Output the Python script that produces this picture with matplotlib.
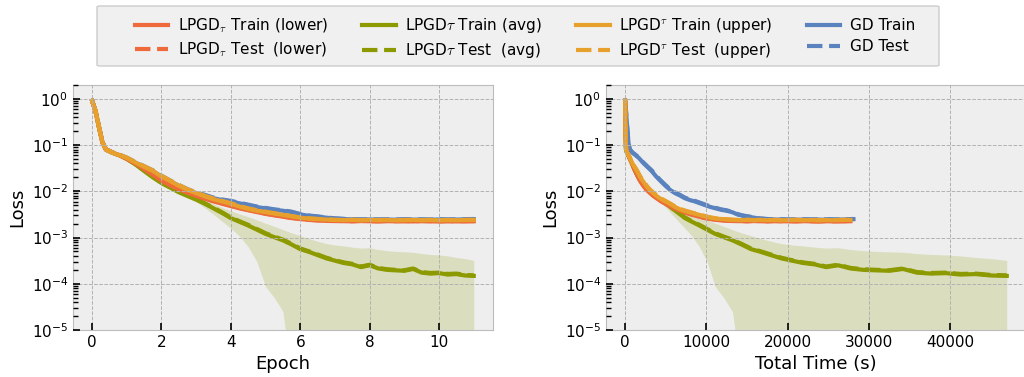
############# Librerias ################
import numpy as np
import matplotlib
matplotlib.use("Agg")
import matplotlib.pyplot as plt
from matplotlib.patches import FancyBboxPatch

plt.style.use('bmh')

############# Datos ################
# Epoch grid shared by all runs
EPOCH = [0, 0.1, 0.2, 0.3, 0.4, 0.6, 0.8, 1.0,
         1.25, 1.5, 1.75, 2.0, 2.25, 2.5, 2.75, 3.0,
         3.25, 3.5, 3.75, 4.0, 4.25, 4.5, 4.75, 5.0,
         5.25, 5.5, 5.75, 6.0, 6.25, 6.5, 6.75, 7.0,
         7.25, 7.5, 7.75, 8.0, 8.25, 8.5, 8.75, 9.0,
         9.25, 9.5, 9.75, 10.0, 10.25, 10.5, 10.75, 11.0]

# Wall-clock time (s) reached at each epoch of the grid
TIME_BOUNDS = [0, 15, 46, 88, 138, 264, 419, 598,
               855, 1146, 1465, 1815, 2191, 2593, 3018, 3471,
               3945, 4442, 4961, 5500, 6060, 6640, 7240, 7860,
               8500, 9153, 9833, 10523, 11233, 11960, 12705, 13465,
               14243, 15037, 15849, 16672, 17510, 18370, 19245, 20130,
               21030, 21950, 22880, 23830, 24790, 25760, 26750, 27750]
TIME_AVG = [0, 9, 31, 65, 109, 229, 388, 584,
            878, 1226, 1626, 2076, 2574, 3120, 3717, 4358,
            5048, 5784, 6562, 7382, 8244, 9155, 10105, 11100,
            12140, 13220, 14340, 15500, 16700, 17950, 19230, 20550,
            21910, 23320, 24760, 26240, 27760, 29320, 30920, 32550,
            34230, 35940, 37690, 39480, 41300, 43160, 45060, 47000]
TIME_GD = [0, 115, 259, 415, 582, 935, 1309, 1700,
           2207, 2732, 3272, 3825, 4390, 4966, 5552, 6148,
           6751, 7362, 7982, 8607, 9240, 9879, 10525, 11175,
           11830, 12493, 13161, 13833, 14510, 15190, 15875, 16566,
           17262, 17960, 18663, 19368, 20077, 20791, 21508, 22230,
           22954, 23679, 24410, 25143, 25880, 26620, 27370, 28120]

# LPGD lower
LOWER_TRAIN = [0.912, 0.537, 0.240, 0.112, 0.0794, 0.0676, 0.0595, 0.0501,
               0.0398, 0.0302, 0.0229, 0.0170, 0.0135, 0.0110, 0.00933, 0.00794,
               0.00692, 0.00603, 0.00537, 0.00479, 0.00427, 0.00389, 0.00355, 0.00324,
               0.00302, 0.00282, 0.00263, 0.00251, 0.00240, 0.00234, 0.00229, 0.00227,
               0.00226, 0.00224, 0.00227, 0.00225, 0.00223, 0.00226, 0.00224, 0.00225,
               0.00223, 0.00226, 0.00224, 0.00222, 0.00225, 0.00223, 0.00224, 0.00225]
LOWER_TEST = [0.912, 0.540, 0.244, 0.114, 0.0808, 0.0685, 0.0604, 0.0510,
              0.0406, 0.0309, 0.0235, 0.0175, 0.0139, 0.0113, 0.00958, 0.00815,
              0.00710, 0.00618, 0.00549, 0.00490, 0.00436, 0.00396, 0.00361, 0.00330,
              0.00307, 0.00286, 0.00267, 0.00254, 0.00243, 0.00236, 0.00231, 0.00229,
              0.00228, 0.00226, 0.00229, 0.00227, 0.00225, 0.00228, 0.00226, 0.00227,
              0.00225, 0.00228, 0.00226, 0.00224, 0.00227, 0.00225, 0.00226, 0.00227]

# LPGD avg
AVG_TRAIN = [0.912, 0.537, 0.240, 0.112, 0.0794, 0.0676, 0.0595, 0.0501,
             0.0380, 0.0275, 0.0200, 0.0151, 0.0120, 0.00955, 0.00794, 0.00661,
             0.00537, 0.00427, 0.00339, 0.00263, 0.00219, 0.00182, 0.00148, 0.00120,
             0.00102, 0.00087, 0.000708, 0.000562, 0.000490, 0.000417, 0.000355, 0.000316,
             0.000282, 0.000263, 0.000229, 0.000251, 0.000214, 0.000200, 0.000195, 0.000191,
             0.000209, 0.000174, 0.000166, 0.000170, 0.000158, 0.000162, 0.000151, 0.000148]
AVG_TEST = [0.912, 0.540, 0.244, 0.114, 0.0806, 0.0686, 0.0604, 0.0510,
            0.0388, 0.0281, 0.0205, 0.0155, 0.0123, 0.00980, 0.00815, 0.00680,
            0.00552, 0.00440, 0.00350, 0.00271, 0.00225, 0.00188, 0.00153, 0.00124,
            0.00105, 0.00090, 0.000730, 0.000580, 0.000503, 0.000430, 0.000366, 0.000324,
            0.000290, 0.000270, 0.000236, 0.000258, 0.000220, 0.000206, 0.000200, 0.000196,
            0.000214, 0.000179, 0.000171, 0.000174, 0.000163, 0.000166, 0.000155, 0.000152]
# spread of the avg run (shaded)
AVG_HIGH = [0.95, 0.58, 0.26, 0.122, 0.087, 0.074, 0.065, 0.055,
            0.042, 0.0302, 0.022, 0.0167, 0.0133, 0.0106, 0.0088, 0.0074,
            0.0063, 0.00537, 0.00447, 0.0038, 0.00324, 0.00282, 0.0024, 0.00204,
            0.00174, 0.00148, 0.00126, 0.0011, 0.00095, 0.00083, 0.00074, 0.00069,
            0.00066, 0.00062, 0.00059, 0.0006, 0.00055, 0.00052, 0.0005, 0.00049,
            0.00048, 0.00045, 0.00043, 0.00042, 0.0004, 0.00037, 0.00035, 0.00032]
AVG_LOW = [0.87, 0.5, 0.22, 0.103, 0.073, 0.062, 0.054, 0.046,
           0.0345, 0.025, 0.018, 0.0136, 0.0108, 0.0086, 0.0071, 0.0059,
           0.00437, 0.00316, 0.00224, 0.00158, 0.00107, 0.00063, 0.0003, 8.7e-5,
           5e-5, 2.5e-5, 1e-6, 1e-7, 1e-7, 1e-7, 1e-7, 1e-7,
           1e-7, 1e-7, 1e-7, 1e-7, 1e-7, 1e-7, 1e-7, 1e-7,
           1e-7, 1e-7, 1e-7, 1e-7, 1e-7, 1e-7, 1e-7, 1e-7]

# LPGD upper
UPPER_TRAIN = [0.912, 0.537, 0.240, 0.112, 0.0794, 0.0676, 0.0603, 0.0525,
               0.0417, 0.0339, 0.0275, 0.0209, 0.0166, 0.0132, 0.0107, 0.00912,
               0.00776, 0.00676, 0.00603, 0.00537, 0.00468, 0.00417, 0.00380, 0.00355,
               0.00331, 0.00309, 0.00288, 0.00269, 0.00257, 0.00251, 0.00245, 0.00240,
               0.00238, 0.00241, 0.00236, 0.00240, 0.00237, 0.00239, 0.00236, 0.00238,
               0.00240, 0.00237, 0.00239, 0.00236, 0.00238, 0.00237, 0.00239, 0.00240]
UPPER_TEST = [0.912, 0.540, 0.245, 0.114, 0.0810, 0.0688, 0.0612, 0.0535,
              0.0428, 0.0348, 0.0284, 0.0217, 0.0171, 0.0137, 0.0111, 0.00945,
              0.00802, 0.00698, 0.00621, 0.00552, 0.00481, 0.00428, 0.00390, 0.00362,
              0.00337, 0.00314, 0.00292, 0.00272, 0.00260, 0.00253, 0.00247, 0.00242,
              0.00240, 0.00243, 0.00239, 0.00242, 0.00239, 0.00241, 0.00238, 0.00240,
              0.00242, 0.00239, 0.00241, 0.00238, 0.00240, 0.00239, 0.00241, 0.00242]

# GD
GD_TRAIN = [0.912, 0.537, 0.240, 0.112, 0.0794, 0.0676, 0.0603, 0.0525,
            0.0417, 0.0339, 0.0275, 0.0209, 0.0166, 0.0132, 0.0107, 0.00912,
            0.00813, 0.00708, 0.00646, 0.00603, 0.00550, 0.00501, 0.00457, 0.00427,
            0.00398, 0.00380, 0.00355, 0.00316, 0.00295, 0.00282, 0.00269, 0.00257,
            0.00251, 0.00247, 0.00245, 0.00246, 0.00244, 0.00245, 0.00243, 0.00246,
            0.00244, 0.00245, 0.00243, 0.00246, 0.00244, 0.00245, 0.00247, 0.00250]
GD_TEST = [0.912, 0.540, 0.245, 0.114, 0.0810, 0.0688, 0.0612, 0.0535,
           0.0428, 0.0348, 0.0284, 0.0217, 0.0171, 0.0137, 0.0111, 0.00945,
           0.00840, 0.00730, 0.00664, 0.00620, 0.00565, 0.00514, 0.00468, 0.00437,
           0.00407, 0.00388, 0.00362, 0.00322, 0.00300, 0.00286, 0.00272, 0.00260,
           0.00254, 0.00249, 0.00247, 0.00248, 0.00246, 0.00247, 0.00245, 0.00248,
           0.00246, 0.00247, 0.00245, 0.00248, 0.00246, 0.00247, 0.00249, 0.00252]

LABELS = [r'LPGD$_\tau$ Train (lower)', r'LPGD$_\tau$ Test  (lower)',
          r'LPGD$\tau$ Train (avg)', r'LPGD$\tau$ Test  (avg)',
          r'LPGD$^\tau$ Train (upper)', r'LPGD$^\tau$ Test  (upper)',
          'GD Train', 'GD Test']

C_LOWER = '#EE6A3A'
C_AVG = '#8C9A00'
C_UPPER = '#E8A02C'
C_GD = '#5A82BF'
LW = 3.0


############# Funciones ################

# Dibuja todas las curvas en un eje, x_gd / x_avg / x_bnd son los ejes x de cada run
def dibujar(ax, x_gd, x_avg, x_bnd):
    ax.fill_between(x_avg, AVG_LOW, AVG_HIGH, color=C_AVG, alpha=0.2, lw=0)
    h = {}
    h['gd_tr'], = ax.plot(x_gd, GD_TRAIN, color=C_GD, lw=LW)
    h['gd_te'], = ax.plot(x_gd, GD_TEST, color=C_GD, lw=LW, ls='--')
    h['avg_tr'], = ax.plot(x_avg, AVG_TRAIN, color=C_AVG, lw=LW)
    h['avg_te'], = ax.plot(x_avg, AVG_TEST, color=C_AVG, lw=LW, ls='--')
    h['lo_tr'], = ax.plot(x_bnd, LOWER_TRAIN, color=C_LOWER, lw=LW)
    h['lo_te'], = ax.plot(x_bnd, LOWER_TEST, color=C_LOWER, lw=LW, ls='--')
    h['up_tr'], = ax.plot(x_bnd, UPPER_TRAIN, color=C_UPPER, lw=LW)
    h['up_te'], = ax.plot(x_bnd, UPPER_TEST, color=C_UPPER, lw=LW, ls='--')
    ax.set_yscale('log')
    ax.set_ylim(1e-5, 2)
    ax.set_ylabel('Loss', fontsize=13)
    ax.set_axisbelow(False)
    ax.tick_params(labelsize=11)
    ax.tick_params(which='both', direction='in', color='black',
                   left=True, bottom=True)
    ax.tick_params(which='major', length=5, width=1.2)
    ax.tick_params(which='minor', length=3.5, width=1.0)
    ax.grid(True, which='major', color='#b2b2b2', ls='--', lw=0.7)
    ax.grid(False, which='minor')
    return [h['lo_tr'], h['lo_te'], h['avg_tr'], h['avg_te'],
            h['up_tr'], h['up_te'], h['gd_tr'], h['gd_te']]


############# Plots ################
fig = plt.figure(figsize=(10.24, 3.77), dpi=100)
ax1 = fig.add_axes([0.0713, 0.1247, 0.41, 0.65])
ax2 = fig.add_axes([0.5918, 0.1247, 0.41, 0.65])

handles = dibujar(ax1, EPOCH, EPOCH, EPOCH)
ax1.set_xlabel('Epoch', fontsize=13)

dibujar(ax2, TIME_GD, TIME_AVG, TIME_BOUNDS)
ax2.set_xlabel('Total Time (s)', fontsize=13)

# caja de la leyenda dibujada aparte
caja = FancyBboxPatch((97 / 1024, 1 - 66 / 377), 842 / 1024, 60 / 377,
                      boxstyle='round,pad=0,rounding_size=0.003',
                      transform=fig.transFigure, facecolor='#f0f0f0',
                      edgecolor='#cccccc', lw=1.0, zorder=0)
fig.patches.append(caja)

fig.legend(handles, LABELS, loc='upper left', bbox_to_anchor=(121 / 1024, 0.994),
           ncol=4, fontsize=11, handlelength=2.2, columnspacing=2.25,
           handletextpad=0.6, labelspacing=0.4, frameon=False)

plt.savefig('out.png', dpi=100)
